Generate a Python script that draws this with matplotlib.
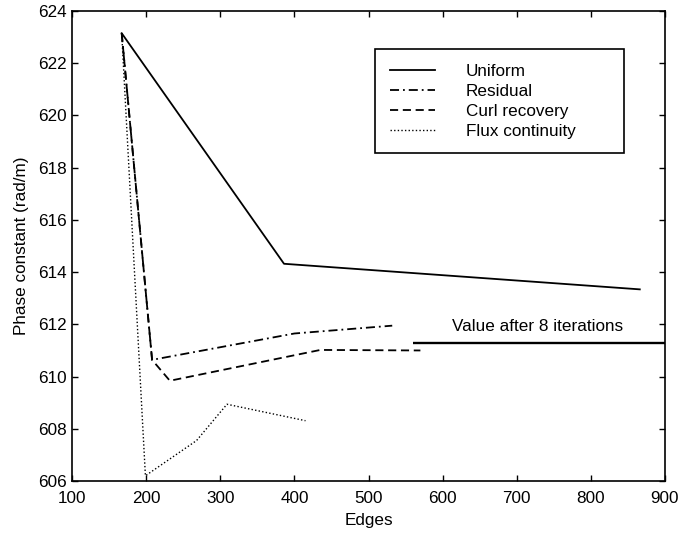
import matplotlib
matplotlib.use("Agg")
import matplotlib.pyplot as plt
from matplotlib.patches import Rectangle

plt.rcParams['font.family'] = ['Liberation Sans', 'DejaVu Sans']

# ---- data ----
uniform_x = [167, 386, 866]
uniform_y = [623.15, 614.32, 613.34]

residual_x = [167, 208, 400, 532]
residual_y = [623.15, 610.64, 611.65, 611.95]

curl_x = [167, 208, 232, 435, 570]
curl_y = [623.15, 610.64, 609.84, 611.02, 611.0]

flux_x = [167, 199, 268, 309, 415]
flux_y = [623.15, 606.2, 607.55, 608.94, 608.31]

final_value = 611.3
final_x = [560, 900]
final_label = "Value after 8 iterations"

x_ticks = [100, 200, 300, 400, 500, 600, 700, 800, 900]
y_ticks = [606, 608, 610, 612, 614, 616, 618, 620, 622, 624]

fs = 12.3
fig = plt.figure(figsize=(6.98, 5.35), dpi=100)
ax = fig.add_axes([0.1032, 0.1009, 0.8495, 0.8785])

ax.plot(uniform_x, uniform_y, color='black', lw=1.3, ls='-', label='Uniform')
ax.plot(residual_x, residual_y, color='black', lw=1.3,
        ls=(0, (5, 2.2, 1, 2.2)), label='Residual')
ax.plot(curl_x, curl_y, color='black', lw=1.3, ls=(0, (4.5, 2.6)),
        label='Curl recovery')
ax.plot(flux_x, flux_y, color='black', lw=1.0, ls=(0, (1, 1.6)),
        label='Flux continuity')

ax.hlines(final_value, final_x[0], final_x[1], color='black', lw=1.7)
ax.text(612, 611.92, final_label, fontsize=fs, va='center', ha='left')

ax.set_xlim(100, 900)
ax.set_ylim(606, 624)
ax.set_xticks(x_ticks)
ax.set_yticks(y_ticks)
ax.tick_params(direction='in', top=True, right=True, length=4,
               width=1.0, labelsize=fs)
ax.tick_params(axis='x', pad=7.5)
ax.tick_params(axis='y', pad=4)
for s in ax.spines.values():
    s.set_linewidth(1.2)

ax.set_xlabel('Edges', fontsize=fs, labelpad=5)
ax.set_ylabel('Phase constant (rad/m)', fontsize=fs, labelpad=6)

leg = ax.legend(loc='upper left', bbox_to_anchor=(0.511, 0.919),
                frameon=False, fontsize=fs, borderaxespad=0,
                borderpad=0.85, handlelength=2.65, handletextpad=1.8,
                labelspacing=0.3)
ax.add_patch(Rectangle((0.511, 0.698), 0.931 - 0.511, 0.919 - 0.698,
                       transform=ax.transAxes, fill=False,
                       edgecolor='black', lw=1.2, zorder=3))

fig.savefig('out.png', dpi=100)
